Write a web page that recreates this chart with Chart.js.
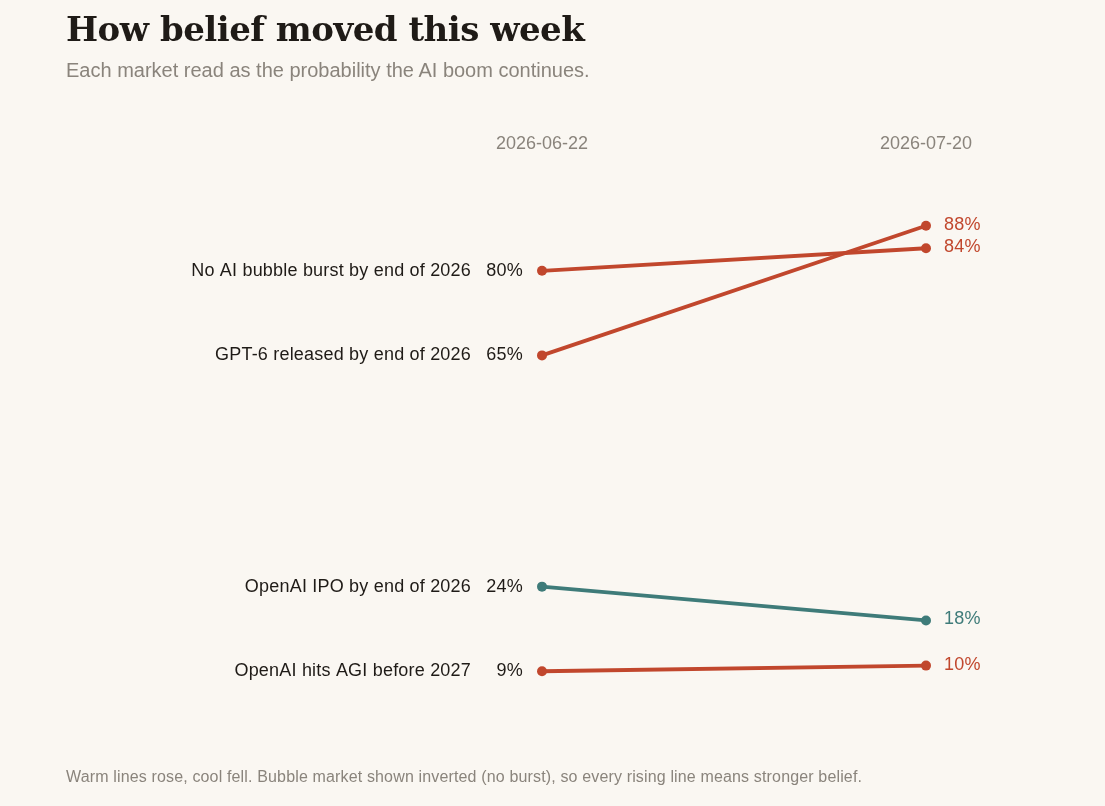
<!DOCTYPE html>
<html>
<head>
<meta charset="utf-8">
<script src="https://cdn.jsdelivr.net/npm/chart.js@4.4.1/dist/chart.umd.min.js"></script>
<style>
  html, body { margin: 0; padding: 0; background: #faf7f2; }
  body { width: 1105px; height: 806px; position: relative; overflow: hidden; font-family: "Liberation Sans", Arial, sans-serif; }
  #title { position: absolute; left: 66px; top: 9px; font-family: "DejaVu Serif", Georgia, serif; font-weight: bold; font-size: 34px; color: #1f1b17; letter-spacing: -0.5px; white-space: nowrap; }
  #subtitle { position: absolute; left: 66px; top: 59px; font-size: 20px; color: #8a847c; white-space: nowrap; }
  #footer { position: absolute; left: 66px; top: 768px; font-size: 16px; letter-spacing: 0.15px; color: #8a847c; white-space: nowrap; }
  #wrap { position: absolute; left: 0; top: 0; width: 1105px; height: 806px; }
</style>
</head>
<body>
<div id="wrap"><canvas id="c" width="1105" height="806"></canvas></div>
<div id="title">How belief moved this week</div>
<div id="subtitle">Each market read as the probability the AI boom continues.</div>
<div id="footer">Warm lines rose, cool fell. Bubble market shown inverted (no burst), so every rising line means stronger belief.</div>
<script>
const dates = ['2026-06-22', '2026-07-20'];
const markets = ['No AI bubble burst by end of 2026', 'GPT-6 released by end of 2026', 'OpenAI IPO by end of 2026', 'OpenAI hits AGI before 2027'];
const startValues = [80, 65, 24, 9];
const endValues = [84, 88, 18, 10];

const WARM = '#c1472d';
const COOL = '#3e7b79';

const datasets = markets.map((m, i) => {
  const col = endValues[i] >= startValues[i] ? WARM : COOL;
  return {
    label: m,
    data: [startValues[i], endValues[i]],
    borderColor: col,
    backgroundColor: col,
    pointBackgroundColor: col,
    pointBorderColor: col,
    borderWidth: 3.8,
    pointRadius: 5,
    pointBorderWidth: 0,
    tension: 0
  };
});

const labelPlugin = {
  id: 'slopeLabels',
  afterDatasetsDraw(chart) {
    const ctx = chart.ctx;
    const xs = chart.scales.x, ys = chart.scales.y;
    ctx.save();
    ctx.textBaseline = 'middle';
    ctx.font = '18px "Liberation Sans", Arial, sans-serif';
    ctx.fillStyle = '#8a847c';
    ctx.textAlign = 'center';
    dates.forEach((d, j) => ctx.fillText(d, xs.getPixelForValue(j), 144));
    chart.data.datasets.forEach((ds) => {
      const x0 = xs.getPixelForValue(0), x1 = xs.getPixelForValue(1);
      const y0 = ys.getPixelForValue(ds.data[0]), y1 = ys.getPixelForValue(ds.data[1]);
      ctx.font = '18px "Liberation Sans", Arial, sans-serif';
      if ('letterSpacing' in ctx) ctx.letterSpacing = '0.2px';
      ctx.textAlign = 'right';
      ctx.fillStyle = '#1f1b17';
      ctx.fillText(ds.data[0] + '%', x0 - 19, y0);
      ctx.fillText(ds.label, x0 - 71, y0);
      ctx.textAlign = 'left';
      ctx.fillStyle = ds.borderColor;
      ctx.fillText(ds.data[1] + '%', x1 + 18, y1 - 1);
      if ('letterSpacing' in ctx) ctx.letterSpacing = '0px';
    });
    ctx.restore();
  }
};

new Chart(document.getElementById('c'), {
  type: 'line',
  data: { labels: dates, datasets },
  options: {
    responsive: false,
    animation: false,
    layout: { padding: { left: 542, right: 179, top: 158, bottom: 84 } },
    plugins: { legend: { display: false }, tooltip: { enabled: false }, title: { display: false } },
    scales: {
      x: { display: false, offset: false },
      y: { display: false, min: 0, max: 100 }
    }
  },
  plugins: [labelPlugin]
});
</script>
</body>
</html>
